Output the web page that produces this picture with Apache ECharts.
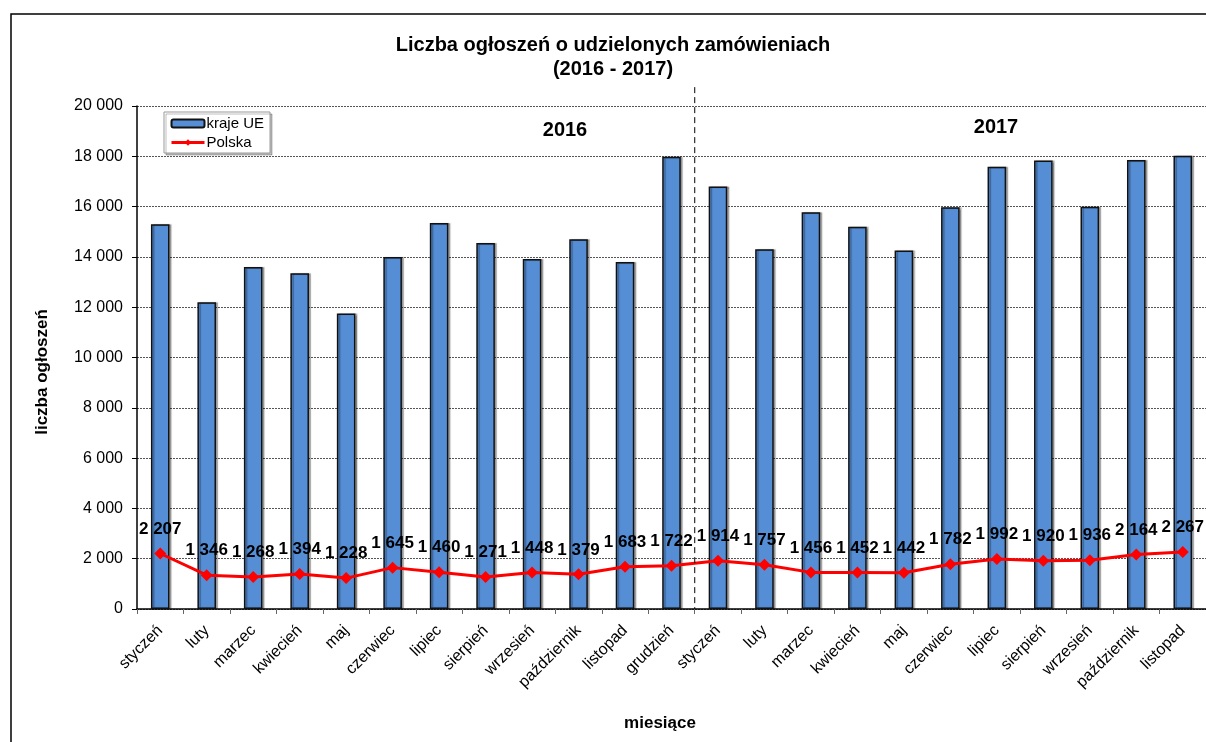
<!DOCTYPE html>
<html><head><meta charset="utf-8">
<script src="https://cdn.jsdelivr.net/npm/echarts@6/dist/echarts.min.js"></script>
<style>html,body{margin:0;padding:0;background:#fff}#c{width:1206px;height:742px}</style>
</head><body><div id="c"></div>
<script>
const categories = ['styczeń','luty','marzec','kwiecień','maj','czerwiec','lipiec','sierpień','wrzesień','październik','listopad','grudzień','styczeń','luty','marzec','kwiecień','maj','czerwiec','lipiec','sierpień','wrzesień','październik','listopad'];
const euValues = [15300,12200,13600,13350,11750,14000,15350,14550,13920,14700,13800,17980,16800,14300,15780,15200,14250,15970,17580,17830,15990,17850,18020];
const plValues = [2207,1346,1268,1394,1228,1645,1460,1271,1448,1379,1683,1722,1914,1757,1456,1452,1442,1782,1992,1920,1936,2164,2267];
const yTicks = {min:0, max:20000, interval:2000};
const lastIndex2016 = 11;
const splitTop = 20750;
const seriesNames = ['kraje UE','Polska'];
const titleLines = ['Liczba ogłoszeń o udzielonych zamówieniach','(2016 - 2017)'];

const FF = '"Liberation Sans", Arial, sans-serif';
const fmt = v => String(v).replace(/\B(?=(\d{3})+(?!\d))/g, ' ');

const chart = echarts.init(document.getElementById('c'), null, {renderer:'canvas'});
const baseGraphic = [
  {type:'rect', shape:{x:11, y:14, width:1300, height:900}, style:{fill:null, stroke:'#000', lineWidth:1.5}, silent:true, z:-1},
  {type:'text', x:613, y:45, style:{text:titleLines[0], font:'bold 20px '+FF, fill:'#000', textAlign:'center', textVerticalAlign:'middle'}},
  {type:'text', x:613, y:69, style:{text:titleLines[1], font:'bold 20px '+FF, fill:'#000', textAlign:'center', textVerticalAlign:'middle'}},
  {type:'text', x:565, y:130, style:{text:'2016', font:'bold 20px '+FF, fill:'#000', textAlign:'center', textVerticalAlign:'middle'}},
  {type:'text', x:996, y:127, style:{text:'2017', font:'bold 20px '+FF, fill:'#000', textAlign:'center', textVerticalAlign:'middle'}},
  {type:'text', x:42, y:372, rotation:Math.PI/2, style:{text:'liczba ogłoszeń', font:'bold 17px '+FF, fill:'#000', textAlign:'center', textVerticalAlign:'middle'}},
  {type:'text', x:660, y:723, style:{text:'miesiące', font:'bold 17px '+FF, fill:'#000', textAlign:'center', textVerticalAlign:'middle'}}
];
chart.setOption({
  backgroundColor:'#fff',
  animation:false,
  textStyle:{fontFamily:FF},
  grid:{left:137, right:-1, top:106, bottom:133, containLabel:false},
  legend:{
    orient:'vertical', left:164, top:112,
    data:seriesNames,
    itemWidth:33, itemHeight:8, itemGap:4,
    padding:[4,6,3,6],
    backgroundColor:'#fff', borderColor:'#999', borderWidth:1,
    textStyle:{fontFamily:FF, fontSize:15, color:'#000', padding:[0,0,0,-3]},
    lineStyle:{width:3},
    shadowColor:'rgba(0,0,0,0.25)', shadowOffsetX:2, shadowOffsetY:2
  },
  xAxis:{
    type:'category', data:categories,
    axisLine:{lineStyle:{color:'#000', width:1.5}},
    axisTick:{show:true, length:5, lineStyle:{color:'#666'}},
    axisLabel:{rotate:45, fontSize:16, color:'#000', fontFamily:FF, margin:19, interval:0},
    splitLine:{show:false}
  },
  yAxis:{
    type:'value', min:yTicks.min, max:yTicks.max, interval:yTicks.interval,
    axisLine:{show:true, lineStyle:{color:'#000', width:1.5}},
    axisTick:{show:true, inside:false, length:5, lineStyle:{color:'#000'}},
    axisLabel:{fontSize:16, color:'#000', fontFamily:FF, margin:14, formatter:fmt},
    splitLine:{show:true, lineStyle:{color:'#555', type:[2,1], width:1}}
  },
  graphic:baseGraphic,
  series:[{
    name:seriesNames[0], type:'bar', data:euValues, barWidth:'40%',
    itemStyle:{color:'#558ED5', borderColor:'#111', borderWidth:1.5,
      shadowColor:'rgba(0,0,0,0.3)', shadowOffsetX:2, shadowOffsetY:0, shadowBlur:1},
    z:2
  },{
    name:seriesNames[1], type:'line', data:plValues,
    symbol:'diamond', symbolSize:12,
    lineStyle:{color:'#FF0000', width:3},
    itemStyle:{color:'#FF0000'},
    label:{show:true, position:'top', distance:10, formatter:p=>fmt(p.value),
      fontFamily:FF, fontSize:17, fontWeight:'bold', color:'#000'},
    z:3
  }]
});
// year separator between the last 2016 category and the first 2017 category, via axis scales
const xa = chart.convertToPixel({xAxisIndex:0}, lastIndex2016);
const xb = chart.convertToPixel({xAxisIndex:0}, lastIndex2016 + 1);
const sx = (xa + xb) / 2;
const y0 = chart.convertToPixel({yAxisIndex:0}, 0);
const y1 = chart.convertToPixel({yAxisIndex:0}, splitTop);
chart.setOption({graphic: baseGraphic.concat([{
  type:'line', shape:{x1:sx, y1:y1, x2:sx, y2:y0}, silent:true, z:5,
  style:{stroke:'#000', lineWidth:1, lineDash:[6,4]}
}])});
</script></body></html>
